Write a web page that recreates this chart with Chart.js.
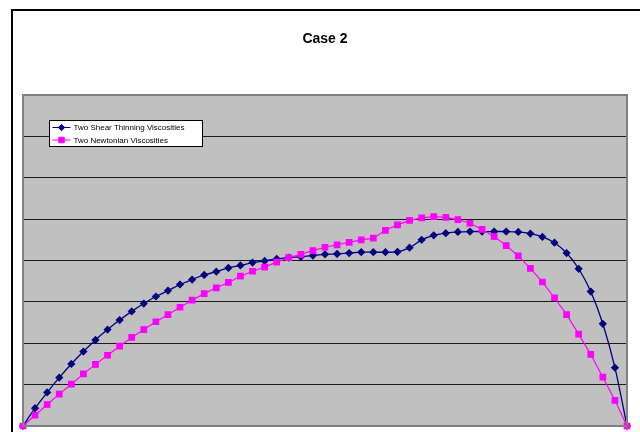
<!DOCTYPE html>
<html>
<head>
<meta charset="utf-8">
<script src="https://cdn.jsdelivr.net/npm/chart.js@4/dist/chart.umd.min.js"></script>
<style>
  html, body { margin: 0; padding: 0; background: #fff; }
  #wrap { width: 640px; height: 432px; }
</style>
</head>
<body>
<div id="wrap"><canvas id="c" width="640" height="432"></canvas></div>
<script>
// Sample positions along the channel (51 stations)
const positions = Array.from({ length: 51 }, (_, i) => i);

const shearThinning = [
  0.00, 0.43, 0.81, 1.17, 1.50, 1.80, 2.08, 2.33, 2.56, 2.77,
  2.96, 3.13, 3.27, 3.42, 3.54, 3.65, 3.73, 3.82, 3.88, 3.95,
  3.99, 4.04, 4.07, 4.09, 4.12, 4.15, 4.16, 4.18, 4.20, 4.20,
  4.20, 4.21, 4.31, 4.50, 4.61, 4.66, 4.69, 4.70, 4.70, 4.70,
  4.70, 4.69, 4.65, 4.57, 4.43, 4.18, 3.80, 3.25, 2.47, 1.41,
  0.00
];

const newtonian = [
  0.00, 0.26, 0.52, 0.77, 1.01, 1.26, 1.49, 1.71, 1.93, 2.14,
  2.33, 2.52, 2.69, 2.87, 3.04, 3.20, 3.34, 3.47, 3.62, 3.74,
  3.84, 3.96, 4.07, 4.15, 4.24, 4.32, 4.38, 4.44, 4.50, 4.54,
  4.73, 4.86, 4.97, 5.03, 5.06, 5.04, 4.99, 4.90, 4.75, 4.58,
  4.36, 4.11, 3.81, 3.48, 3.10, 2.69, 2.22, 1.73, 1.18, 0.62,
  0.00
];

const seriesNames = ['Two Shear Thinning Viscosities', 'Two Newtonian Viscosities'];
const chartTitle = 'Case 2';

const toXY = (vals) => vals.map((v, i) => ({ x: positions[i], y: v }));

// Frame, plot background, title and legend box
const decor = {
  id: 'decor',
  beforeDraw(chart) {
    const { ctx, chartArea: a } = chart;
    ctx.save();
    ctx.fillStyle = '#ffffff';
    ctx.fillRect(0, 0, chart.width, chart.height);
    ctx.strokeStyle = '#000';
    ctx.lineWidth = 2;
    ctx.strokeRect(12, 10, 660, 460);
    ctx.fillStyle = '#c0c0c0';
    ctx.fillRect(a.left, a.top, a.right - a.left, a.bottom - a.top);
    ctx.fillStyle = '#000';
    ctx.font = 'bold 14px "Liberation Sans", Arial, sans-serif';
    ctx.textAlign = 'center';
    ctx.textBaseline = 'middle';
    ctx.fillText(chartTitle, 325, 39);
    ctx.restore();
  },
  afterDraw(chart) {
    const { ctx, chartArea: a } = chart;
    ctx.save();
    ctx.strokeStyle = '#808080';
    ctx.lineWidth = 2;
    ctx.strokeRect(a.left, a.top, a.right - a.left, a.bottom - a.top);
    // legend
    const bx = 49.5, by = 120.5, bw = 153, bh = 26;
    ctx.fillStyle = '#fff';
    ctx.fillRect(bx, by, bw, bh);
    ctx.strokeStyle = '#000';
    ctx.lineWidth = 1;
    ctx.strokeRect(bx, by, bw, bh);
    ctx.font = '8px "Liberation Sans", Arial, sans-serif';
    ctx.textAlign = 'left';
    ctx.textBaseline = 'middle';
    chart.data.datasets.forEach((ds, k) => {
      const yy = by + 7 + k * 12.5;
      ctx.strokeStyle = ds.borderColor;
      ctx.lineWidth = 1;
      ctx.beginPath();
      ctx.moveTo(bx + 3, yy);
      ctx.lineTo(bx + 21, yy);
      ctx.stroke();
      ctx.fillStyle = ds.pointBackgroundColor;
      ctx.strokeStyle = ds.pointBorderColor;
      Chart.helpers.drawPoint(ctx, {
        pointStyle: ds.pointStyle,
        radius: ds.pointRadius,
        borderWidth: 1
      }, bx + 12, yy);
      ctx.fillStyle = '#000';
      ctx.fillText(ds.label, bx + 24, yy + 0.5);
    });
    ctx.restore();
  }
};

new Chart(document.getElementById('c'), {
  type: 'line',
  data: {
    datasets: [
      {
        label: seriesNames[0],
        data: toXY(shearThinning),
        borderColor: '#000080',
        backgroundColor: '#000080',
        pointBackgroundColor: '#000080',
        pointBorderColor: '#000080',
        pointStyle: 'rectRot',
        pointRadius: 3.2,
        borderWidth: 1.3,
        tension: 0.3,
        order: 2
      },
      {
        label: seriesNames[1],
        data: toXY(newtonian),
        borderColor: '#ff00ff',
        backgroundColor: '#ff00ff',
        pointBackgroundColor: '#ff00ff',
        pointBorderColor: '#ff00ff',
        pointStyle: 'rect',
        pointRadius: 3.9,
        borderWidth: 1.2,
        tension: 0,
        order: 1
      }
    ]
  },
  options: {
    responsive: false,
    animation: false,
    clip: false,
    layout: { padding: { left: 23, top: 95, right: 13, bottom: 6 } },
    plugins: {
      legend: { display: false },
      title: { display: false },
      tooltip: { enabled: false }
    },
    scales: {
      x: {
        type: 'linear',
        min: 0,
        max: 50,
        display: true,
        ticks: { display: false },
        grid: { display: false, drawTicks: false },
        border: { display: false }
      },
      y: {
        min: 0,
        max: 8,
        ticks: { display: false, stepSize: 1 },
        grid: { color: '#1a1a1a', lineWidth: 1, drawTicks: false },
        border: { display: false }
      }
    }
  },
  plugins: [decor]
});
</script>
</body>
</html>
